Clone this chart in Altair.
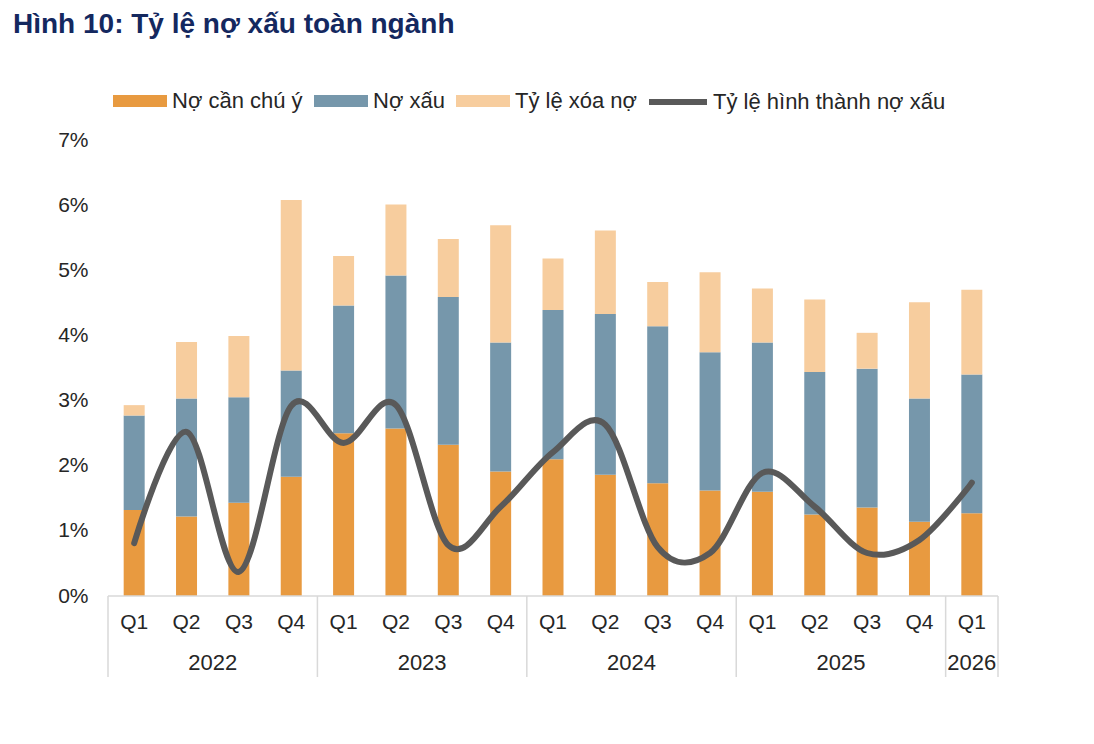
import altair as alt
import pandas as pd

# ---- data ----
quarters = ["Q1", "Q2", "Q3", "Q4", "Q1", "Q2", "Q3", "Q4", "Q1", "Q2", "Q3", "Q4",
            "Q1", "Q2", "Q3", "Q4", "Q1"]
years = ["2022"] * 4 + ["2023"] * 4 + ["2024"] * 4 + ["2025"] * 4 + ["2026"]

series_names = ["Nợ cần chú ý", "Nợ xấu", "Tỷ lệ xóa nợ"]
no_can_chu_y = [1.32, 1.22, 1.43, 1.83, 2.50, 2.57, 2.32, 1.91, 2.10, 1.86, 1.73, 1.62,
                1.60, 1.25, 1.36, 1.14, 1.27]
no_xau = [1.45, 1.81, 1.62, 1.63, 1.96, 2.35, 2.27, 1.98, 2.29, 2.47, 2.41, 2.12,
          2.29, 2.19, 2.13, 1.89, 2.13]
ty_le_xoa_no = [0.16, 0.87, 0.94, 2.62, 0.76, 1.09, 0.89, 1.80, 0.79, 1.28, 0.68, 1.23,
                0.83, 1.11, 0.55, 1.48, 1.30]
line_name = "Tỷ lệ hình thành nợ xấu"
ty_le_hinh_thanh = [0.81, 2.52, 0.37, 2.92, 2.35, 2.93, 0.78, 1.37, 2.21, 2.63, 0.75, 0.66,
                    1.89, 1.37, 0.66, 0.86, 1.74]

title_text = "Hình 10: Tỷ lệ nợ xấu toàn ngành"
y_ticks = [0, 1, 2, 3, 4, 5, 6, 7]

# ---- styling ----
colors = ["#E89A40", "#7697AB", "#F7CD9E"]
line_color = "#595959"
FONT = "Liberation Sans"
TXT = "#262626"
W, H = 890, 456

n = len(quarters)
rows = []
for k, (name, vals) in enumerate(zip(series_names, [no_can_chu_y, no_xau, ty_le_xoa_no])):
    for i in range(n):
        rows.append({"idx": i, "series": name, "value": vals[i], "ord": k})
bars_df = pd.DataFrame(rows)
line_df = pd.DataFrame({"idx": list(range(n)), "rate": ty_le_hinh_thanh, "name": line_name})
q_df = pd.DataFrame({"idx": list(range(n)), "q": quarters, "year": years})

# year groups
yr_rows = []
bounds = [-0.5]
for y in dict.fromkeys(years):
    ids = [i for i in range(n) if years[i] == y]
    yr_rows.append({"year": y, "pos": sum(ids) / len(ids)})
    bounds.append(max(ids) + 0.5)
yr_df = pd.DataFrame(yr_rows)
div_df = pd.DataFrame({"b": bounds})

xscale = alt.Scale(domain=[-0.5, n - 0.5], nice=False, zero=False, padding=0)
yscale = alt.Scale(domain=[0, 7], nice=False, padding=0)
yaxis = alt.Axis(values=y_ticks, labelExpr="datum.value + '%'", grid=False,
                 domain=False, ticks=False, title=None, labelFontSize=21,
                 labelColor=TXT, labelPadding=20, labelFont=FONT)

bars = alt.Chart(bars_df).mark_bar(size=21).encode(
    x=alt.X("idx:Q", scale=xscale, axis=None),
    y=alt.Y("value:Q", stack="zero", scale=yscale, axis=yaxis),
    color=alt.Color("series:N", scale=alt.Scale(domain=series_names, range=colors),
                    legend=alt.Legend(orient="none", legendX=5, legendY=-66, direction="horizontal",
                                      title=None, symbolType="M-1,-0.22H1V0.22H-1Z",
                                      symbolSize=2916, symbolStrokeWidth=0, labelFontSize=22,
                                      labelFont=FONT, labelColor=TXT, labelOffset=5,
                                      columnPadding=11, padding=0, labelLimit=400)),
    order=alt.Order("ord:Q"),
)

line = alt.Chart(line_df).mark_line(interpolate="cardinal", strokeWidth=6, strokeCap="round").encode(
    x=alt.X("idx:Q", scale=xscale, axis=None),
    y=alt.Y("rate:Q", scale=yscale, axis=yaxis),
    color=alt.Color("name:N", scale=alt.Scale(domain=[line_name], range=[line_color]),
                    legend=alt.Legend(orient="none", legendX=538, legendY=-70, title=None,
                                      symbolType="stroke", symbolSize=3364, symbolStrokeWidth=6,
                                      labelFontSize=22, labelFont=FONT, labelColor=TXT,
                                      labelOffset=3, padding=0, labelLimit=400)),
)

baseline = alt.Chart(pd.DataFrame({"a": [bounds[0]], "b": [bounds[-1]]})).mark_rule(
    color="#d9d9d9", strokeWidth=1.5).encode(
    x=alt.X("a:Q", scale=xscale, axis=None), x2="b:Q", y=alt.value(H))

dividers = alt.Chart(div_df).mark_rule(color="#d9d9d9", strokeWidth=1.5).encode(
    x=alt.X("b:Q", scale=xscale, axis=None), y=alt.value(H), y2=alt.value(H + 81))

qlabels = alt.Chart(q_df).mark_text(fontSize=21, font=FONT, color=TXT, baseline="middle").encode(
    x=alt.X("idx:Q", scale=xscale, axis=None), y=alt.value(H + 27), text="q:N")

ylabels = alt.Chart(yr_df).mark_text(fontSize=22, font=FONT, color=TXT, baseline="middle").encode(
    x=alt.X("pos:Q", scale=xscale, axis=None), y=alt.value(H + 67), text="year:N")

title = alt.Chart(pd.DataFrame({"t": [title_text]})).mark_text(
    fontSize=28, font=FONT, fontWeight="bold", color="#14285F", align="left",
    baseline="alphabetic").encode(x=alt.value(-95), y=alt.value(-107), text="t:N")

chart = alt.layer(bars, line, baseline, dividers, qlabels, ylabels, title).resolve_scale(
    color="independent").properties(
    width=W, height=H,
    padding={"left": 100, "top": 132, "right": 80, "bottom": 100},
    autosize=alt.AutoSizeParams(type="none"),
).configure(background="white").configure_view(strokeWidth=0, stroke="transparent")

chart.save("out.html", embed_options={"renderer": "svg", "actions": False})
